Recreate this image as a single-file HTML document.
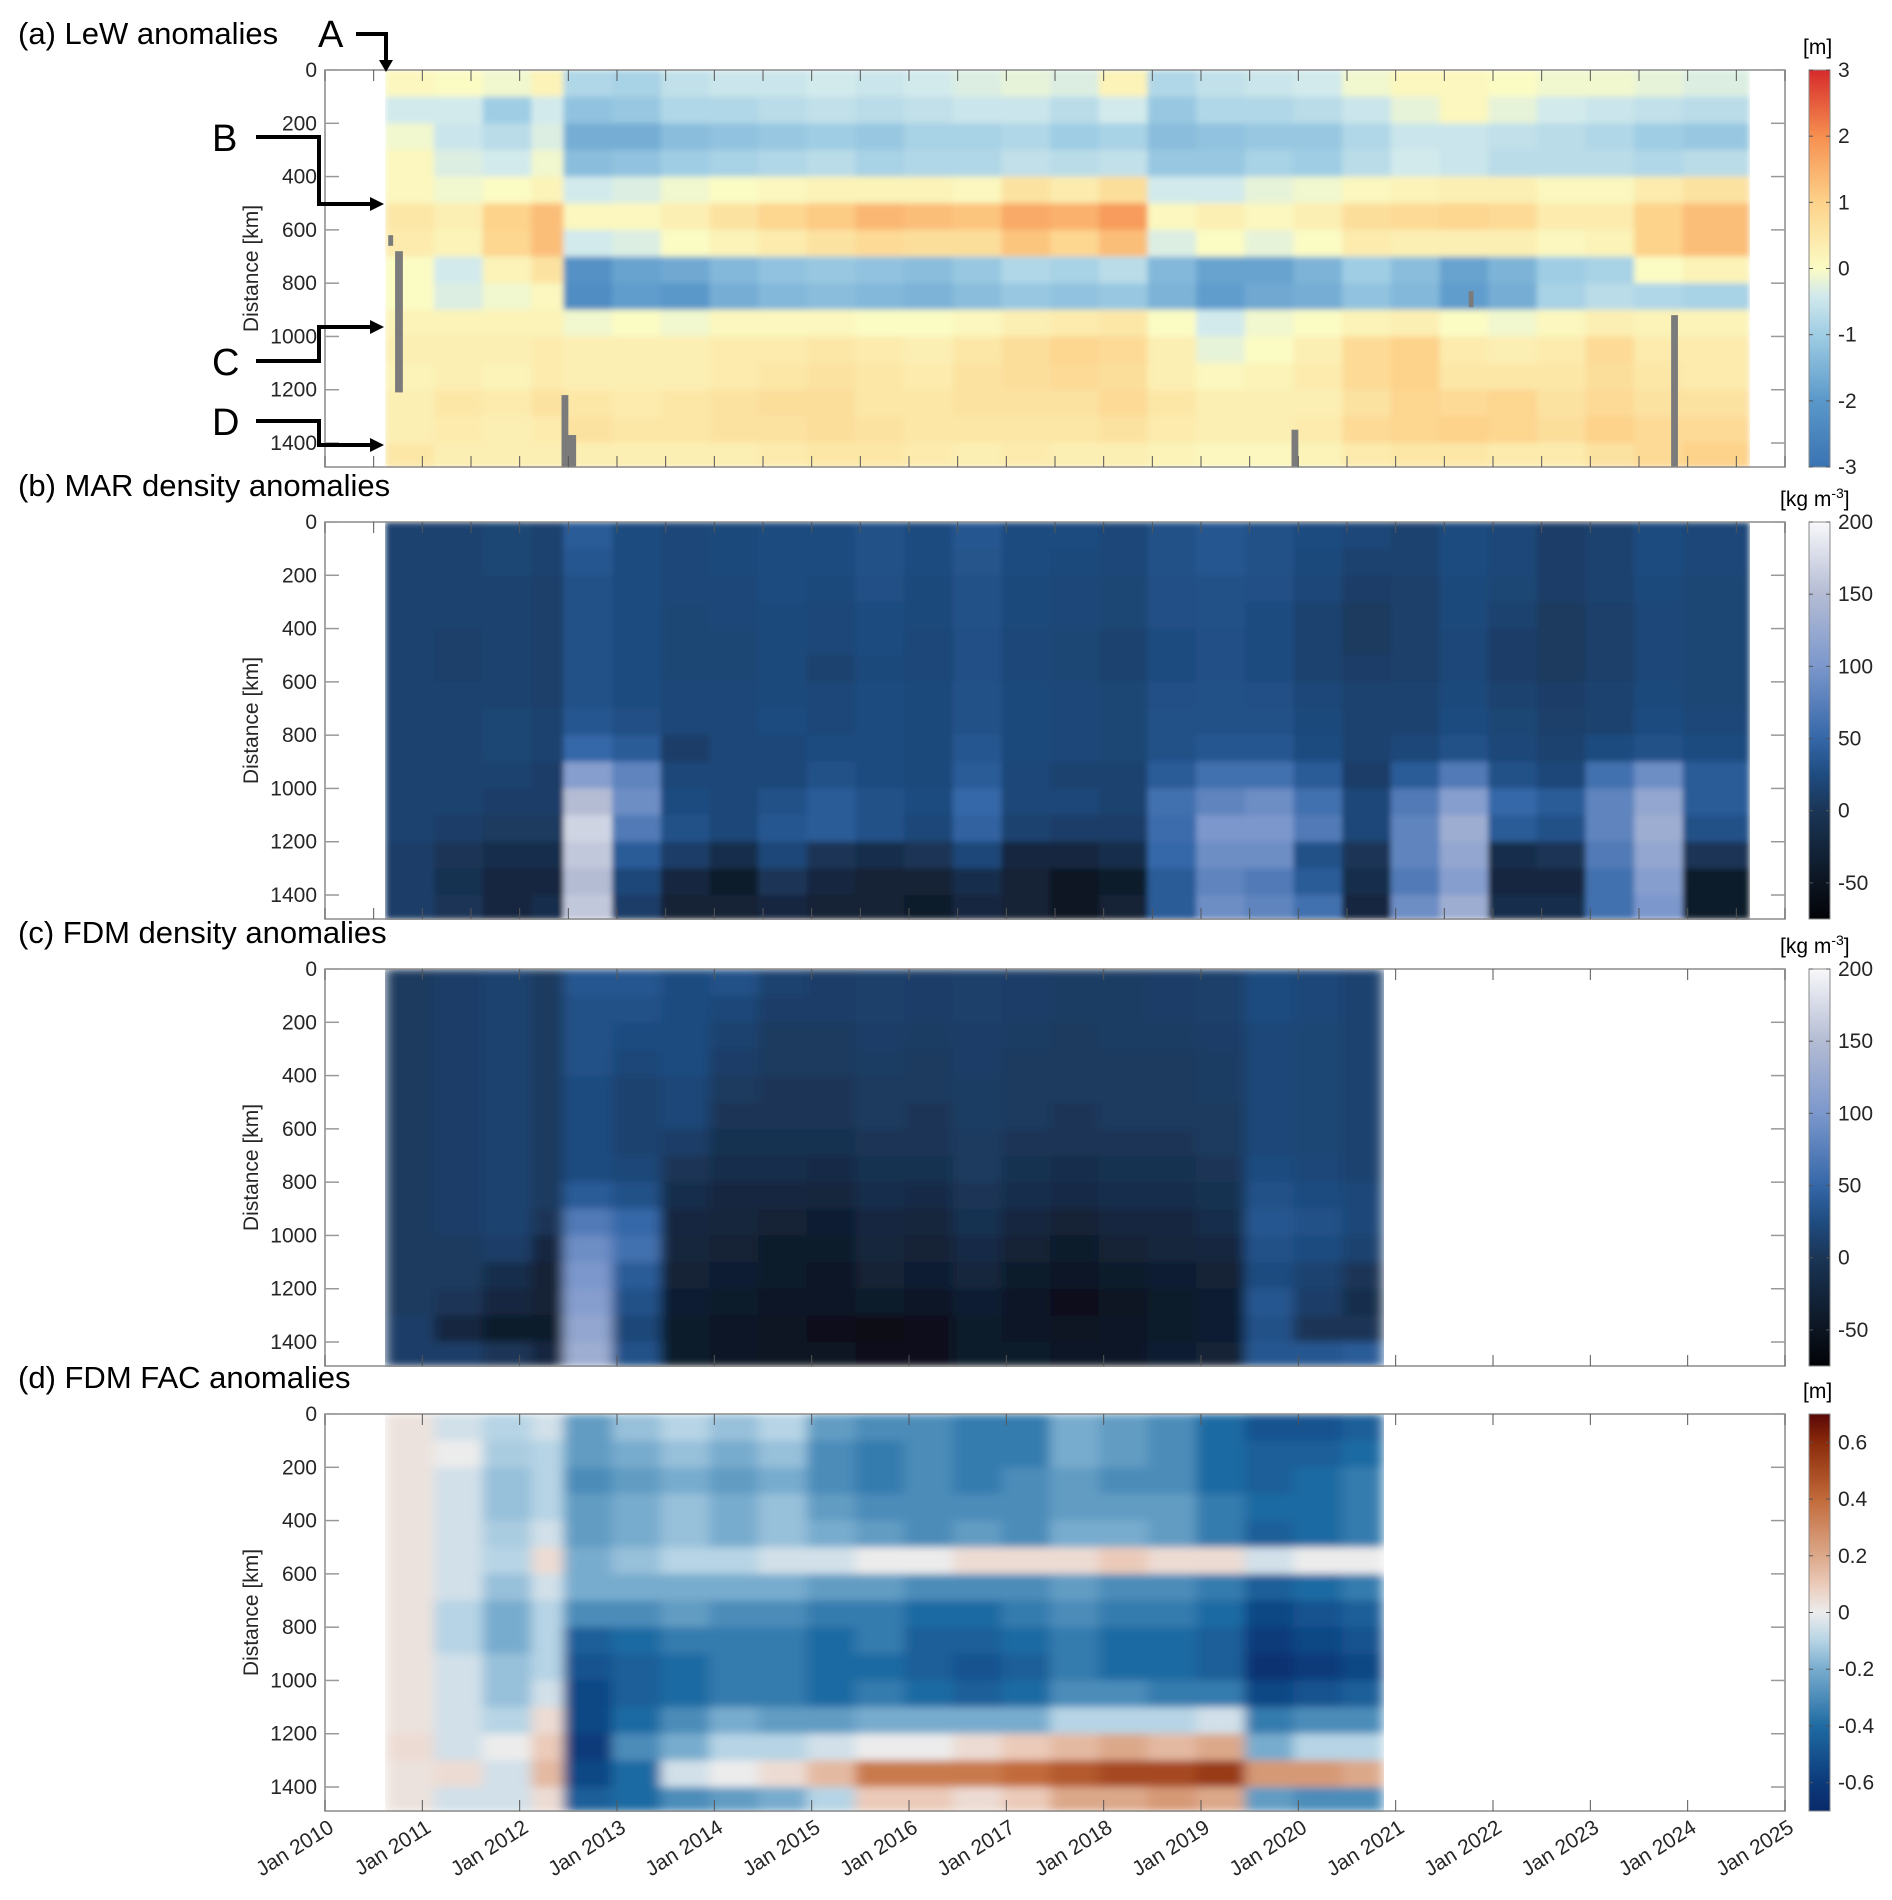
<!DOCTYPE html>
<html><head><meta charset="utf-8">
<style>
html,body{margin:0;padding:0;background:#fff;}
svg{display:block;font-family:"Liberation Sans",Arial,sans-serif;}
</style></head>
<body>
<svg id="fig" width="1892" height="1900" viewBox="0 0 1892 1900" xmlns="http://www.w3.org/2000/svg">
<defs>
<filter id="soft" x="0" y="0" width="1" height="1"><feGaussianBlur stdDeviation="3" edgeMode="duplicate"/></filter>
<filter id="soft2" x="0" y="0" width="1" height="1"><feGaussianBlur stdDeviation="6 4" edgeMode="duplicate"/></filter>
</defs>
<g id="root"></g>
<g stroke="#000" stroke-width="4" fill="none">
<path d="M356 34 H386 V62"/><path d="M256 137 H319 V204 H372"/><path d="M256 361 H319 V327 H372"/><path d="M256 421 H319 V445 H372"/>
</g>
<g fill="#000"><path d="M379 60 L393 60 L386 72 Z"/><path d="M370 197 L384 204 L370 211 Z"/><path d="M370 320 L384 327 L370 334 Z"/><path d="M370 438 L384 445 L370 452 Z"/></g>
<g font-size="38" fill="#000">
<text x="318" y="47">A</text>
<text x="212" y="151">B</text>
<text x="212" y="375">C</text>
<text x="212" y="435">D</text>
</g>
</svg>
<script>
// ---- time categories (column start years) ----
const colStartA = [2010.62,2011.12,2011.62,2012.12,2012.45,2012.95,2013.45,2013.95,2014.45,2014.95,2015.45,2015.95,2016.45,2016.95,2017.45,2017.95,2018.45,2018.95,2019.45,2019.95,2020.45,2020.95,2021.45,2021.95,2022.45,2022.95,2023.45,2023.95];
const colEndA = 2024.63;
const colStartC = [2010.62,2011.12,2011.62,2012.12,2012.45,2012.95,2013.45,2013.95,2014.45,2014.95,2015.45,2015.95,2016.45,2016.95,2017.45,2017.95,2018.45,2018.95,2019.45,2019.95,2020.45];
const colEndC = 2020.87;
const distRows = [0,100,200,300,400,500,600,700,800,900,1000,1100,1200,1300,1400];
const distMax = 1490;
const yTicks = [0,200,400,600,800,1000,1200,1400];
const xTickYears = [2010,2011,2012,2013,2014,2015,2016,2017,2018,2019,2020,2021,2022,2023,2024,2025];

// ---- (a) LeW anomalies [m], one array per column, rows 0..1400 km ----
const lewA = [
[0.1,-0.4,-0.1,0.1,0.1,0.5,0.4,0,0,0.2,0.3,0.2,0.3,0.3,0.5],
[0,-0.4,-0.5,-0.3,-0.1,0.3,0.2,-0.4,-0.3,0.2,0.3,0.3,0.5,0.4,0.3],
[-0.1,-1.0,-0.7,-0.4,0,1.0,0.9,0.2,-0.1,0.2,0.3,0.2,0.4,0.3,0.3],
[0.2,-0.4,-0.3,-0.1,0.2,1.3,1.3,0.6,0.1,0.2,0.4,0.4,0.6,0.4,0.3],
[-0.8,-1.2,-1.6,-1.3,-0.4,0.1,-0.4,-2.2,-2.3,-0.1,0.3,0.3,0.5,0.6,0.3],
[-0.9,-1.1,-1.6,-1.2,-0.3,0.1,-0.3,-1.8,-1.9,0,0.3,0.3,0.4,0.5,0.3],
[-0.6,-0.8,-1.3,-1.0,-0.1,0.3,0,-1.7,-2.0,-0.1,0.3,0.3,0.5,0.5,0.3],
[-0.5,-0.8,-1.2,-0.9,0,0.6,0.2,-1.4,-1.6,0.1,0.4,0.4,0.6,0.6,0.3],
[-0.5,-0.7,-1.1,-0.8,0.1,0.9,0.4,-1.2,-1.4,0.1,0.4,0.5,0.7,0.6,0.4],
[-0.4,-0.6,-1.0,-0.7,0.2,1.1,0.6,-1.1,-1.3,0.1,0.5,0.6,0.7,0.7,0.5],
[-0.5,-0.7,-1.1,-0.9,0.2,1.4,0.8,-1.2,-1.4,0,0.4,0.5,0.5,0.6,0.5],
[-0.4,-0.6,-0.9,-0.8,0.2,1.3,0.7,-1.3,-1.5,0,0.3,0.4,0.5,0.5,0.4],
[-0.3,-0.5,-0.9,-0.8,0.1,1.2,0.7,-1.1,-1.3,0.1,0.5,0.6,0.6,0.5,0.3],
[-0.2,-0.5,-0.8,-0.6,0.6,1.6,1.2,-0.8,-1.1,0.3,0.7,0.7,0.6,0.5,0.4],
[-0.3,-0.7,-1.0,-0.7,0.4,1.5,0.9,-0.9,-1.2,0.4,0.9,0.8,0.6,0.5,0.3],
[0.2,-0.4,-0.9,-0.6,0.7,1.8,1.3,-0.7,-1.1,0.5,0.8,0.7,0.8,0.6,0.3],
[-0.8,-1.1,-1.3,-1.1,-0.4,0.1,-0.3,-1.4,-1.5,0,0.3,0.3,0.5,0.4,0.2],
[-0.6,-0.8,-1.2,-1.1,-0.4,0.3,0,-1.8,-1.9,-0.4,-0.2,0.1,0.3,0.3,0.1],
[-0.5,-0.8,-1.1,-0.9,-0.2,0.1,-0.2,-1.8,-1.7,-0.1,0,0.2,0.3,0.3,0.1],
[-0.4,-0.7,-1.1,-1.0,-0.1,0.3,0,-1.5,-1.6,0,0.3,0.4,0.3,0.4,0.2],
[-0.1,-0.5,-0.8,-0.7,0.1,0.7,0.4,-1.0,-1.2,0.2,0.8,0.8,0.6,0.8,0.4],
[0.1,-0.2,-0.5,-0.4,0.2,0.8,0.3,-1.3,-1.4,0.3,1.0,1.0,0.9,0.9,0.5],
[0.1,0.1,-0.5,-0.5,0.3,0.9,0.3,-1.8,-1.9,0,0.4,0.5,0.8,1.0,0.5],
[0,-0.2,-0.6,-0.7,0.3,0.8,0.3,-1.5,-1.6,-0.1,0.3,0.5,0.9,0.9,0.4],
[-0.1,-0.4,-0.7,-0.7,0.1,0.4,0.1,-1.0,-0.9,0.1,0.4,0.5,0.6,0.7,0.4],
[-0.1,-0.5,-0.8,-0.7,0.1,0.4,0.2,-0.9,-0.7,0.3,0.8,0.7,0.8,1.0,0.6],
[-0.2,-0.6,-1.0,-0.8,0.4,1.0,1.0,0,-0.8,0.2,0.4,0.5,0.6,0.8,0.8],
[-0.3,-0.7,-1.1,-0.7,0.6,1.3,1.3,0.2,-0.9,0.2,0.4,0.4,0.6,0.8,1.0]];
// missing-data gaps in (a): start year, end year, from km, to km
const gapStart = [2010.72,2010.65,2012.43,2012.47,2019.93,2023.83,2021.75];
const gapEnd   = [2010.80,2010.70,2012.50,2012.58,2020.0,2023.90,2021.80];
const gapFrom  = [680,620,1220,1370,1350,920,830];
const gapTo    = [1210,660,1490,1490,1490,1490,890];

// ---- (b) MAR density anomalies [kg m-3] ----
const marB = [
[15,15,15,15,15,15,15,15,15,15,15,15,10,10,10],
[15,15,15,15,12,12,15,15,15,15,15,10,0,-5,0],
[18,18,15,15,15,15,15,18,18,15,10,5,-10,-20,-20],
[15,15,12,12,12,12,12,15,15,10,10,5,-10,-20,-10],
[40,35,30,30,30,30,30,35,50,110,150,170,160,150,160],
[25,25,25,25,25,25,25,28,40,80,90,70,40,20,10],
[20,20,20,18,18,18,20,20,10,20,25,30,10,-20,-30],
[22,22,20,20,18,18,20,20,20,20,20,20,-10,-40,-30],
[25,25,25,22,22,22,22,25,20,20,30,35,20,0,-20],
[25,25,22,20,20,15,20,20,25,30,40,40,0,-20,-30],
[30,30,28,25,25,22,25,25,25,25,30,30,-10,-30,-30],
[25,25,22,22,20,20,22,22,22,22,25,20,0,-30,-40],
[35,32,30,30,28,28,30,30,35,40,50,45,20,-10,-20],
[25,25,22,22,20,20,22,22,22,20,20,15,-20,-30,-30],
[25,22,20,20,18,18,20,20,20,15,20,10,-20,-50,-50],
[20,20,18,18,15,15,18,18,18,15,15,10,-10,-40,-30],
[30,30,28,28,25,25,28,30,30,40,60,55,50,40,40],
[35,35,30,30,28,28,30,30,35,60,80,100,90,80,90],
[30,30,28,25,25,25,28,30,35,60,90,100,90,70,80],
[25,22,20,15,15,15,20,22,25,40,60,70,30,40,60],
[20,15,10,5,5,10,15,15,15,10,20,20,0,-10,-20],
[15,15,12,12,12,12,15,15,20,40,70,80,80,70,90],
[25,25,22,22,20,20,22,25,30,70,110,130,120,110,130],
[20,20,18,15,10,10,15,18,20,30,50,40,-10,-20,-10],
[10,10,10,5,5,5,10,12,15,20,40,30,0,-20,-10],
[15,15,15,12,12,12,15,15,25,60,80,80,70,60,60],
[25,25,22,20,20,20,22,25,30,90,120,130,120,110,100],
[20,20,18,18,18,18,18,20,25,40,40,30,0,-40,-40]];

// ---- (c) FDM density anomalies [kg m-3] ----
const fdmC = [
[5,5,5,5,5,5,5,5,5,5,5,5,5,10,10],
[10,10,10,10,10,10,10,10,10,10,5,5,0,-20,10],
[15,15,15,15,15,15,15,15,15,15,10,-10,-20,-40,0],
[5,5,5,5,5,5,5,5,5,0,-20,-30,-30,-40,-20],
[35,30,30,30,25,25,25,25,40,70,90,100,110,120,130],
[35,30,25,20,15,15,15,20,30,50,60,40,30,20,30],
[25,25,25,25,20,20,10,0,-10,-20,-25,-30,-35,-40,-40],
[30,20,15,10,5,0,-5,-10,-20,-25,-30,-35,-40,-45,-45],
[15,10,5,5,0,0,-5,-10,-20,-30,-40,-40,-45,-50,-50],
[10,10,5,5,0,0,-5,-15,-25,-35,-40,-45,-45,-55,-50],
[12,12,10,8,5,5,0,-5,-10,-20,-25,-30,-40,-60,-55],
[10,10,8,5,5,0,0,-5,-15,-25,-30,-35,-45,-55,-55],
[12,12,10,10,8,8,5,5,0,-5,-15,-25,-35,-40,-40],
[10,10,8,5,5,5,0,-5,-10,-20,-30,-40,-45,-45,-40],
[8,8,5,5,5,0,0,-10,-15,-30,-40,-45,-55,-50,-45],
[8,8,8,5,5,5,0,-5,-10,-20,-30,-40,-50,-45,-45],
[10,10,8,5,5,5,0,-5,-10,-20,-25,-35,-40,-40,-35],
[12,12,10,8,8,5,5,0,-5,-10,-20,-30,-35,-35,-30],
[25,25,20,20,20,20,20,25,30,35,30,25,35,30,35],
[20,20,18,18,18,18,18,20,25,30,25,15,10,0,35],
[15,15,15,15,15,15,15,15,20,20,15,0,-10,0,40]];

// ---- (d) FDM FAC anomalies [m] ----
const facD = [
[0.03,0.03,0.03,0.03,0.03,0.03,0.03,0.03,0.03,0.03,0.03,0.03,0.05,0.03,0.03],
[-0.05,0,-0.05,-0.05,-0.05,-0.05,-0.05,-0.1,-0.1,-0.05,-0.05,-0.05,-0.05,0.05,-0.05],
[-0.1,-0.12,-0.15,-0.15,-0.12,-0.1,-0.15,-0.2,-0.2,-0.15,-0.15,-0.1,0,-0.05,-0.05],
[-0.05,-0.1,-0.1,-0.1,-0.05,0.05,-0.05,-0.1,-0.1,-0.1,-0.05,0.05,0.1,0.15,0.05],
[-0.25,-0.25,-0.3,-0.25,-0.25,-0.2,-0.2,-0.3,-0.45,-0.5,-0.55,-0.55,-0.6,-0.55,-0.45],
[-0.15,-0.2,-0.25,-0.2,-0.2,-0.15,-0.2,-0.3,-0.4,-0.45,-0.45,-0.4,-0.3,-0.4,-0.4],
[-0.1,-0.15,-0.2,-0.15,-0.15,-0.1,-0.2,-0.25,-0.35,-0.4,-0.4,-0.3,-0.2,-0.05,-0.3],
[-0.15,-0.2,-0.25,-0.2,-0.2,-0.1,-0.2,-0.3,-0.35,-0.35,-0.35,-0.2,-0.1,0,-0.25],
[-0.1,-0.15,-0.2,-0.15,-0.15,-0.05,-0.2,-0.3,-0.35,-0.35,-0.35,-0.25,-0.1,0.05,-0.2],
[-0.25,-0.3,-0.3,-0.25,-0.2,-0.05,-0.25,-0.35,-0.4,-0.4,-0.4,-0.25,-0.05,0.15,-0.1],
[-0.3,-0.35,-0.35,-0.3,-0.25,0,-0.25,-0.35,-0.35,-0.4,-0.35,-0.2,0,0.35,0.1],
[-0.3,-0.3,-0.3,-0.3,-0.3,0,-0.3,-0.4,-0.45,-0.45,-0.4,-0.2,0,0.35,0.1],
[-0.35,-0.35,-0.35,-0.3,-0.25,0.05,-0.3,-0.4,-0.45,-0.5,-0.45,-0.2,0.05,0.35,0.05],
[-0.35,-0.35,-0.3,-0.3,-0.3,0.05,-0.3,-0.35,-0.4,-0.45,-0.4,-0.2,0.1,0.4,0.1],
[-0.2,-0.2,-0.25,-0.25,-0.2,0.05,-0.25,-0.3,-0.35,-0.35,-0.3,-0.1,0.15,0.45,0.2],
[-0.25,-0.25,-0.3,-0.25,-0.2,0.1,-0.3,-0.35,-0.4,-0.4,-0.3,-0.1,0.2,0.5,0.2],
[-0.3,-0.3,-0.3,-0.25,-0.25,0.05,-0.3,-0.35,-0.4,-0.4,-0.35,-0.1,0.15,0.5,0.25],
[-0.4,-0.4,-0.4,-0.35,-0.35,0.05,-0.35,-0.4,-0.45,-0.45,-0.35,-0.05,0.2,0.55,0.2],
[-0.5,-0.45,-0.45,-0.4,-0.45,-0.05,-0.45,-0.55,-0.6,-0.65,-0.55,-0.35,-0.2,0.25,-0.25],
[-0.5,-0.45,-0.4,-0.4,-0.4,0,-0.4,-0.5,-0.55,-0.6,-0.5,-0.3,-0.1,0.25,-0.3],
[-0.45,-0.4,-0.35,-0.35,-0.35,0,-0.35,-0.45,-0.5,-0.55,-0.45,-0.3,-0.1,0.2,-0.3]];

// colorbar tick labels
const cbTicksA = [3,2,1,0,-1,-2,-3];
const cbTicksB = [200,150,100,50,0,-50];
const cbTicksD = [0.6,0.4,0.2,0,-0.2,-0.4,-0.6];

// ---- styles / layout ----
const cmapA = [[-3,'#3a73b2'],[-2,'#5a98ca'],[-1,'#9fcde4'],[-0.4,'#d2eaec'],[0,'#fbfbc4'],[1,'#fdd28a'],[2,'#f68f50'],[3,'#d62a2a']];
const cmapB = [[-75,'#020307'],[-50,'#0c1521'],[0,'#1a3556'],[25,'#1f4c80'],[50,'#3567a8'],[100,'#7b97cc'],[150,'#b4bcd4'],[200,'#f8f8fa']];
const cmapD = [[-0.7,'#0a2a6a'],[-0.6,'#0c3a7a'],[-0.4,'#1f6ba3'],[-0.2,'#78acce'],[-0.1,'#b6d4e5'],[0,'#ececec'],[0.1,'#ebcab9'],[0.2,'#dca88a'],[0.4,'#c26a3a'],[0.6,'#8a2a0a'],[0.7,'#5a0708']];
const X0=325, X1=1785, Y0=2010, Y1=2025;
const panels = [
 {key:'a', top:70, title:'(a) LeW anomalies', data:lewA, cols:colStartA, end:colEndA, cmap:cmapA, vmin:-3, vmax:3, cb:cbTicksA, unit:'[m]', filt:'url(#soft)', minor:true},
 {key:'b', top:522, title:'(b) MAR density anomalies', data:marB, cols:colStartA, end:colEndA, cmap:cmapB, vmin:-75, vmax:200, cb:cbTicksB, unit:'kg', filt:'url(#soft)', minor:true},
 {key:'c', top:969, title:'(c) FDM density anomalies', data:fdmC, cols:colStartC, end:colEndC, cmap:cmapB, vmin:-75, vmax:200, cb:cbTicksB, unit:'kg', filt:'url(#soft2)', minor:false},
 {key:'d', top:1414, title:'(d) FDM FAC anomalies', data:facD, cols:colStartC, end:colEndC, cmap:cmapD, vmin:-0.7, vmax:0.7, cb:cbTicksD, unit:'[m]', filt:'url(#soft2)', minor:false}
];
const PH=397;
const NS='http://www.w3.org/2000/svg';
const root=document.getElementById('root');
function xs(yr){return X0+(yr-Y0)/(Y1-Y0)*(X1-X0);}
function hex(h){return [parseInt(h.slice(1,3),16),parseInt(h.slice(3,5),16),parseInt(h.slice(5,7),16)];}
function color(v,cm){
 if(v<=cm[0][0]) return cm[0][1];
 for(let i=1;i<cm.length;i++){ if(v<=cm[i][0]){const t=(v-cm[i-1][0])/(cm[i][0]-cm[i-1][0]);const a=hex(cm[i-1][1]),b=hex(cm[i][1]);return 'rgb('+a.map((c,k)=>Math.round(c+(b[k]-c)*t)).join(',')+')';}}
 return cm[cm.length-1][1];
}
function el(tag,attrs,parent){const e=document.createElementNS(NS,tag);for(const k in attrs)e.setAttribute(k,attrs[k]);(parent||root).appendChild(e);return e;}

panels.forEach(p=>{
 const ys=d=>p.top+d/distMax*PH;
 const g=el('g',{});
 
 
 const t=el('text',{x:18,y:p.top-26,'font-size':31,fill:'#000'},g);
 t.textContent=p.title;
 
 
 const hm=el('g',{},g);
 
 
 if(p.filt) hm.setAttribute('filter',p.filt);
 p.data.forEach((col,i)=>{
  const xa=xs(p.cols[i]), xb=xs(i+1<p.cols.length?p.cols[i+1]:p.end);
  col.forEach((v,j)=>{
   const ya=ys(distRows[j]), yb=ys(j+1<distRows.length?distRows[j+1]:distMax);
   const r=el('rect',{x:xa.toFixed(2),y:ya.toFixed(2),width:(xb-xa+0.6).toFixed(2),height:(yb-ya+0.6).toFixed(2),fill:color(v,p.cmap)},hm);
   
   
  });
 });
 if(p.key==='a'){
  gapStart.forEach((s,i)=>{
   const r=el('rect',{x:xs(s),y:ys(gapFrom[i]),width:xs(gapEnd[i])-xs(s),height:ys(gapTo[i])-ys(gapFrom[i]),fill:'#7b7b7b'},g);
   
   
  });
 }
 const box=el('rect',{x:X0,y:p.top,width:X1-X0,height:PH,fill:'none',stroke:'#8a8a8a','stroke-width':1.5},g);
 
 
 xTickYears.forEach(yr=>{
  const x=xs(yr);
  el('line',{x1:x,x2:x,y1:p.top,y2:p.top+11,stroke:'#555','stroke-width':1},g);
  el('line',{x1:x,x2:x,y1:p.top+PH,y2:p.top+PH-11,stroke:'#555','stroke-width':1},g);
  if(p.minor && yr<2025){const xm=xs(yr+0.5);
   el('line',{x1:xm,x2:xm,y1:p.top,y2:p.top+11,stroke:'#555','stroke-width':1},g);
   el('line',{x1:xm,x2:xm,y1:p.top+PH,y2:p.top+PH-11,stroke:'#555','stroke-width':1},g);}
 });
 yTicks.forEach(d=>{
  const y=ys(d);
  el('line',{x1:X0,x2:X0+14,y1:y,y2:y,stroke:'#999','stroke-width':1.5},g);
  el('line',{x1:X1,x2:X1-14,y1:y,y2:y,stroke:'#999','stroke-width':1.5},g);
  const tl=el('text',{x:317,y:y+7,'font-size':21,'text-anchor':'end',fill:'#262626'},g);
  tl.textContent=d;
  
  
 });
 const yl=el('text',{x:0,y:0,'font-size':21,'text-anchor':'middle',fill:'#262626',transform:'translate(258,'+(p.top+PH/2)+') rotate(-90)'},g);
 yl.textContent='Distance [km]';
 
 
 const cbx=1809, cbw=21;
 const cb=el('g',{},g);
 
 
 const gid='grad'+p.key;
 const lg=el('linearGradient',{id:gid,x1:0,y1:1,x2:0,y2:0},cb);
 p.cmap.forEach(s=>{el('stop',{offset:((s[0]-p.vmin)/(p.vmax-p.vmin)),'stop-color':s[1]},lg);});
 el('rect',{x:cbx,y:p.top,width:cbw,height:PH,fill:'url(#'+gid+')',stroke:'#8a8a8a','stroke-width':1},cb);
 const cy=v=>p.top+PH-(v-p.vmin)/(p.vmax-p.vmin)*PH;
 p.cb.forEach(v=>{
  const y=cy(v);
  el('line',{x1:cbx,x2:cbx+4,y1:y,y2:y,stroke:'#555'},cb);
  el('line',{x1:cbx+cbw,x2:cbx+cbw-4,y1:y,y2:y,stroke:'#555'},cb);
  const tl=el('text',{x:cbx+cbw+8,y:y+7,'font-size':21,fill:'#262626'},cb);
  tl.textContent=String(v);
  
  
 });
 const ul=el('text',{x:p.unit==='kg'?1780:1803,y:p.top-16,'font-size':21,fill:'#000'},cb);
 if(p.unit==='kg'){ul.innerHTML='[kg m<tspan font-size="14" dy="-8">-3</tspan><tspan dy="8">]</tspan>';}
 else ul.textContent=p.unit;
 
 
});
const xl=el('g',{});


xTickYears.forEach(yr=>{
 const x=xs(yr);
 const t=el('text',{x:0,y:0,'font-size':21,'text-anchor':'end',fill:'#262626',transform:'translate('+(x+10)+',1831) rotate(-32)'},xl);
 t.textContent='Jan '+yr;
 
 
});
</script>
</body></html>
